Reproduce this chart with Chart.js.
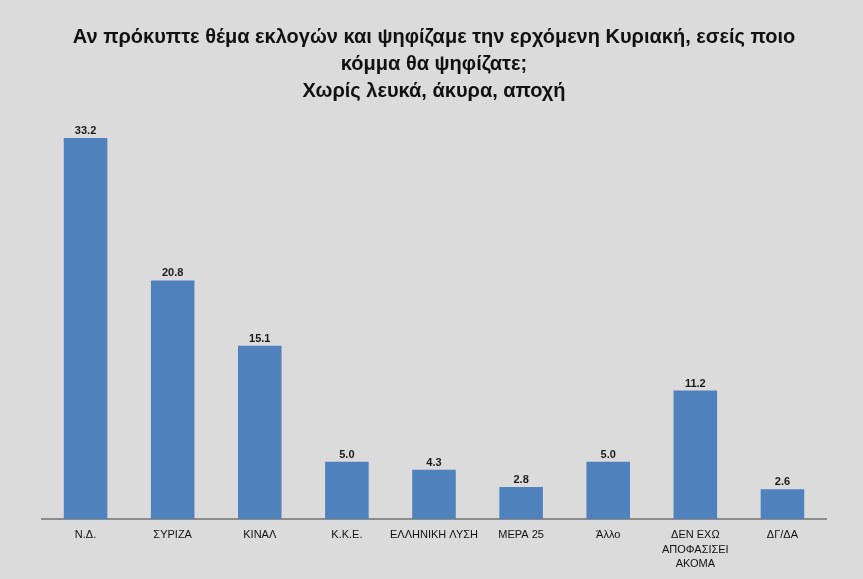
<!DOCTYPE html>
<html lang="el">
<head>
<meta charset="utf-8">
<title>Πρόθεση ψήφου</title>
<script src="https://cdn.jsdelivr.net/npm/chart.js@4/dist/chart.umd.min.js"></script>
<style>
  html, body { margin: 0; padding: 0; background: #dbdbdb; }
  #wrap { width: 863px; height: 579px; position: relative; }
</style>
</head>
<body>
<div id="wrap"><canvas id="chart"></canvas></div>
<script>
// Δεδομένα
const categories = [
  'Ν.Δ.', 'ΣΥΡΙΖΑ', 'ΚΙΝΑΛ', 'Κ.Κ.Ε.', 'ΕΛΛΗΝΙΚΗ ΛΥΣΗ', 'ΜΕΡΑ 25', 'Άλλο',
  ['ΔΕΝ ΕΧΩ', 'ΑΠΟΦΑΣΙΣΕΙ', 'ΑΚΟΜΑ'], 'ΔΓ/ΔΑ'
];
const values = [33.2, 20.8, 15.1, 5.0, 4.3, 2.8, 5.0, 11.2, 2.6];
const titleLines = [
  'Αν πρόκυπτε θέμα εκλογών και ψηφίζαμε την ερχόμενη Κυριακή, εσείς ποιο',
  'κόμμα θα ψηφίζατε;',
  'Χωρίς λευκά, άκυρα, αποχή'
];

const FONT = '"Liberation Sans", Arial, sans-serif';

// ετικέτες τιμών πάνω από τις μπάρες
const valueLabels = {
  id: 'valueLabels',
  afterDatasetsDraw(chart) {
    const ctx = chart.ctx;
    const meta = chart.getDatasetMeta(0);
    ctx.save();
    ctx.font = 'bold 11px ' + FONT;
    ctx.fillStyle = '#1a1a1a';
    ctx.textAlign = 'center';
    ctx.textBaseline = 'middle';
    meta.data.forEach((bar, i) => {
      ctx.fillText(values[i].toFixed(1), bar.x, bar.y - 7);
    });
    ctx.restore();
  }
};

new Chart(document.getElementById('chart'), {
  type: 'bar',
  data: {
    labels: categories,
    datasets: [{
      data: values,
      backgroundColor: '#4f81bd',
      barPercentage: 0.5,
      categoryPercentage: 1
    }]
  },
  options: {
    responsive: true,
    maintainAspectRatio: false,
    animation: false,
    layout: { padding: { left: 42, right: 37, top: 0, bottom: 0 } },
    plugins: {
      legend: { display: false },
      tooltip: { enabled: false },
      title: {
        display: true,
        text: titleLines,
        color: '#111',
        font: { family: FONT, size: 20, weight: 'bold', lineHeight: 1.35 },
        padding: { top: 24, bottom: 1 }
      }
    },
    scales: {
      x: {
        grid: { display: false },
        border: { display: true, color: '#8c8c8c', width: 2 },
        ticks: {
          color: '#111',
          font: { family: FONT, size: 11, lineHeight: 1.32 },
          padding: 1,
          maxRotation: 0,
          autoSkip: false
        },
        afterFit(scale) { scale.height = 60; }
      },
      y: {
        display: false,
        min: 0,
        max: 36
      }
    }
  },
  plugins: [valueLabels]
});
</script>
</body>
</html>
